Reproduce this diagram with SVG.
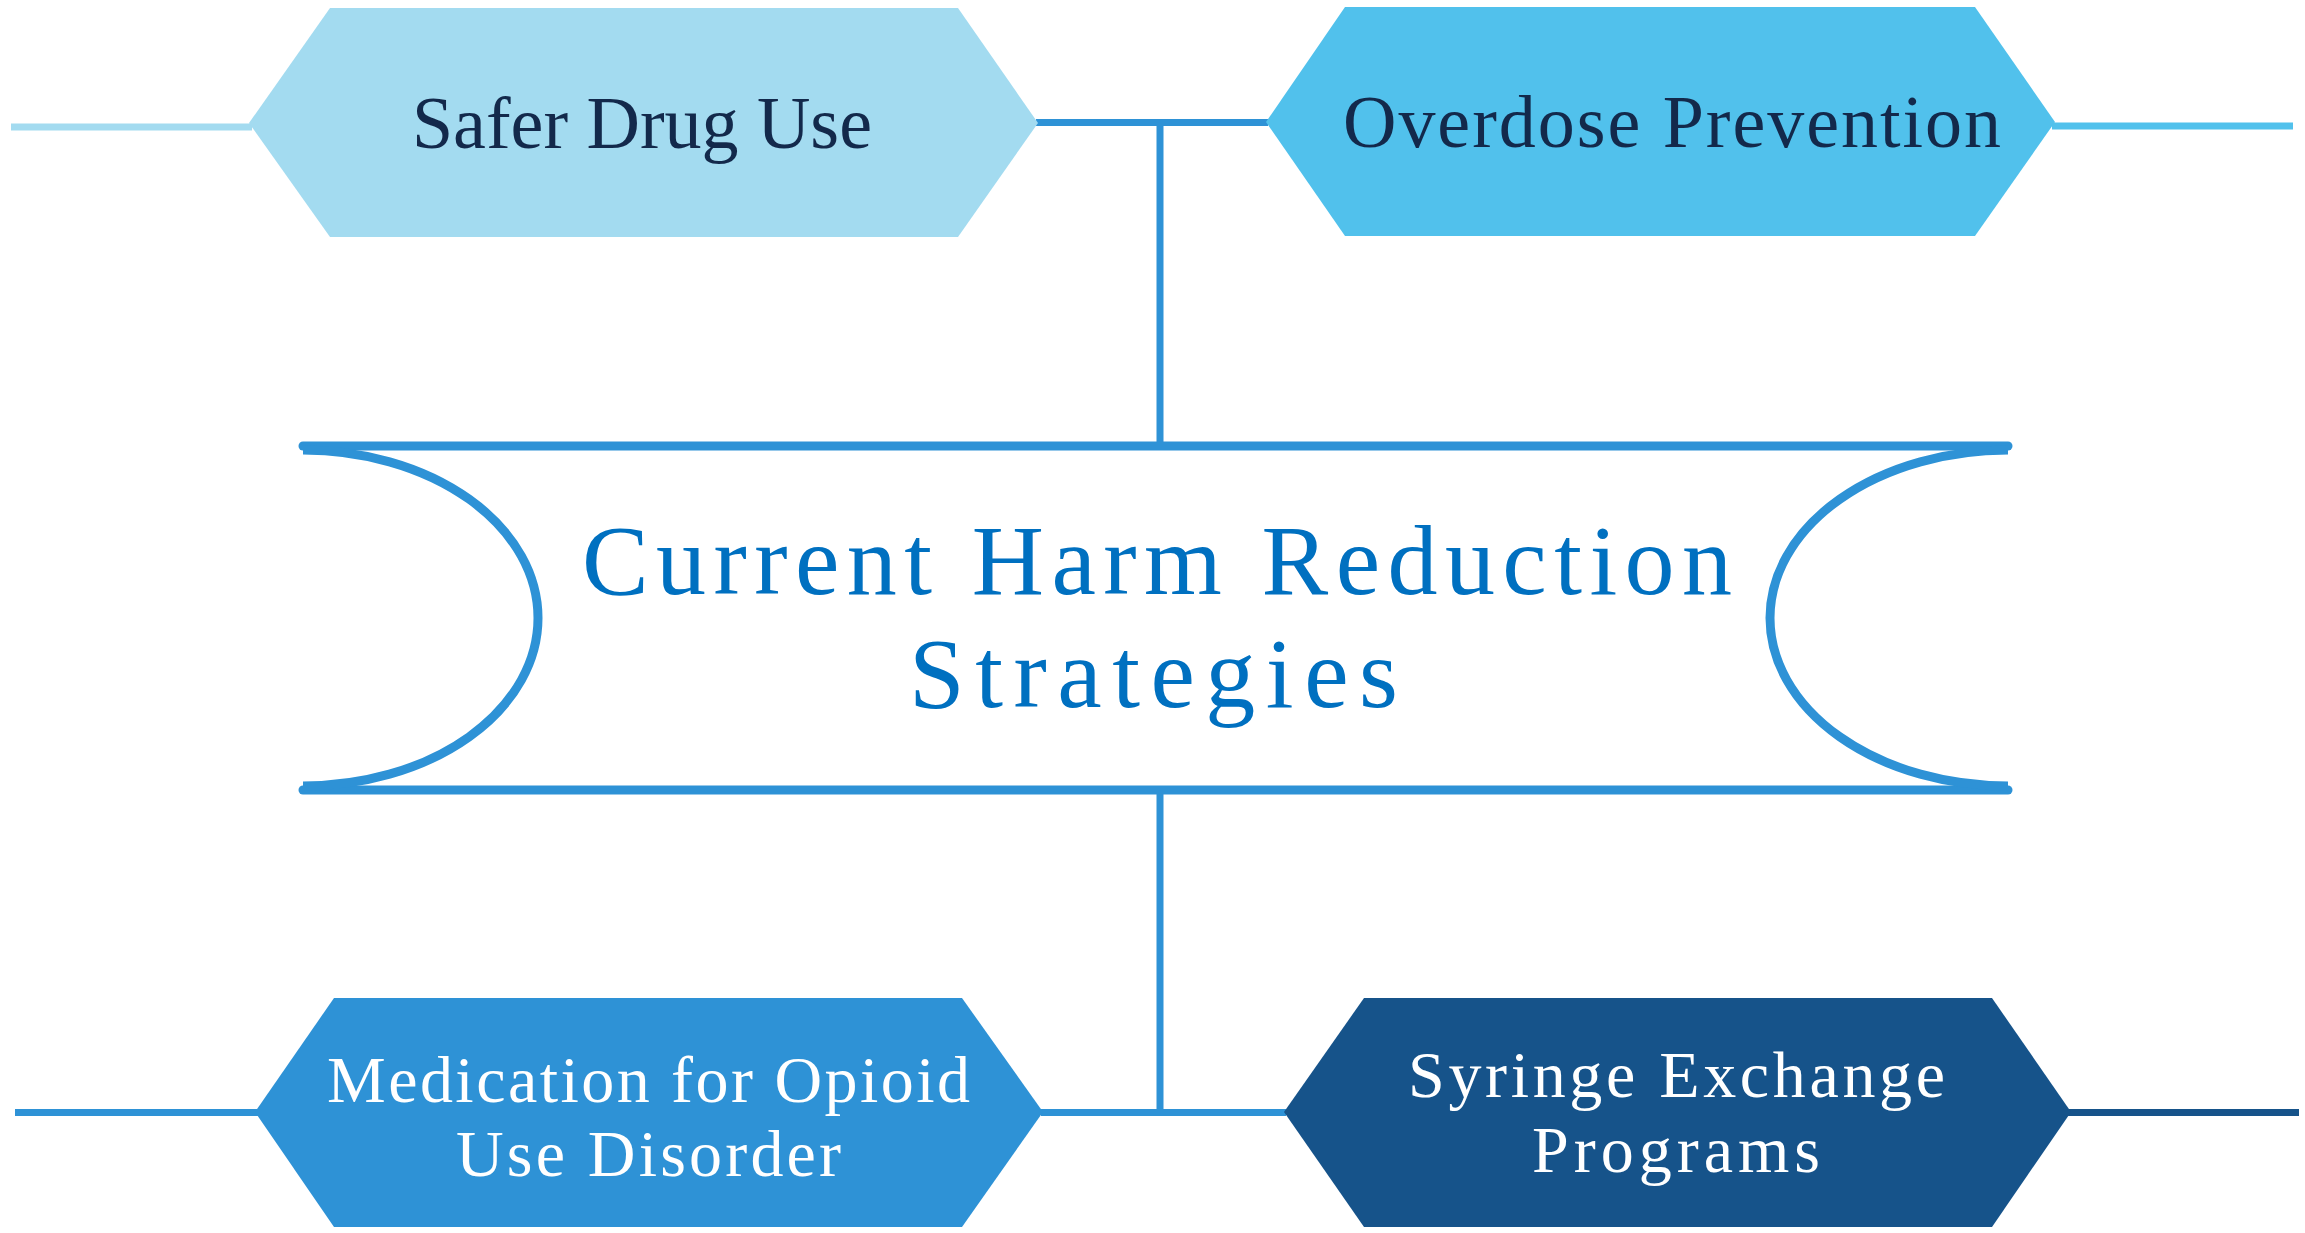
<svg xmlns="http://www.w3.org/2000/svg" width="2305" height="1233" viewBox="0 0 2305 1233">
<style>
.t{font-family:"Liberation Serif","Times New Roman",serif;text-anchor:start}
.dark{fill:#13294B;font-size:74px}
.white{fill:#FFFFFF;font-size:66px}
.main{fill:#0070C0;font-size:100px}
.conn{stroke:#2E92D6;stroke-width:7;fill:none}
</style>
<rect width="2305" height="1233" fill="#FFFFFF"/>
<g id="connectors">
<line x1="11" y1="127" x2="252" y2="127" stroke="#A3DBF0" stroke-width="7"/>
<line x1="2052" y1="126" x2="2293" y2="126" stroke="#51C1EC" stroke-width="7"/>
<line x1="15" y1="1112.5" x2="258" y2="1112.5" stroke="#2E92D6" stroke-width="7"/>
<line x1="2068" y1="1112.5" x2="2299" y2="1112.5" stroke="#16538A" stroke-width="7"/>
<line class="conn" x1="1036" y1="122.5" x2="1268" y2="122.5"/>
<line class="conn" x1="1160" y1="122" x2="1160" y2="446"/>
<line class="conn" x1="1160" y1="790" x2="1160" y2="1112"/>
<line class="conn" x1="1041" y1="1112.5" x2="1286" y2="1112.5"/>
</g>
<g id="node-safer">
<polygon points="249,123 330,8 958,8 1038,123 958,237 330,237" fill="#A3DBF0"/>
<text class="t dark" x="412" y="148" textLength="460" lengthAdjust="spacing">Safer Drug Use</text>
</g>
<g id="node-overdose">
<polygon points="1266,122 1345,7 1975,7 2055,122 1975,236 1345,236" fill="#51C1EC"/>
<text class="t dark" x="1343" y="147" textLength="658" lengthAdjust="spacing">Overdose Prevention</text>
</g>
<g id="node-center">
<line x1="303" y1="446" x2="2008" y2="446" stroke="#2E92D6" stroke-width="9" stroke-linecap="round"/>
<line x1="303" y1="790" x2="2008" y2="790" stroke="#2E92D6" stroke-width="9" stroke-linecap="round"/>
<path d="M303,450 A235,168 0 0 1 303,786" fill="none" stroke="#2E92D6" stroke-width="9"/>
<path d="M2008,450 A238,168 0 0 0 2008,786" fill="none" stroke="#2E92D6" stroke-width="9"/>
<text class="t main"><tspan x="582" y="594" textLength="1150" lengthAdjust="spacing">Current Harm Reduction</tspan><tspan x="909" y="707" textLength="489" lengthAdjust="spacing">Strategies</tspan></text>
</g>
<g id="node-moud">
<polygon points="255,1112 334,998 962,998 1043,1112 962,1227 334,1227" fill="#2E92D6"/>
<text class="t white"><tspan x="327" y="1102" textLength="643" lengthAdjust="spacing">Medication for Opioid</tspan><tspan x="456" y="1176" textLength="385" lengthAdjust="spacing">Use Disorder</tspan></text>
</g>
<g id="node-syringe">
<polygon points="1284,1112 1364,998 1992,998 2071,1112 1992,1227 1364,1227" fill="#16538A"/>
<text class="t white"><tspan x="1408" y="1097" textLength="537" lengthAdjust="spacing">Syringe Exchange</tspan><tspan x="1532" y="1172" textLength="288" lengthAdjust="spacing">Programs</tspan></text>
</g>
</svg>
